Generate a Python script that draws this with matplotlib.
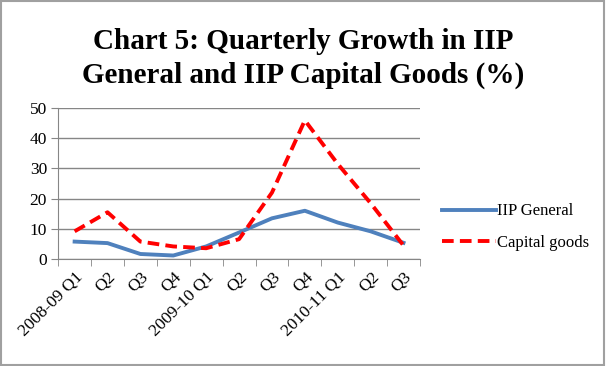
import numpy as np
import matplotlib.pyplot as plt
from matplotlib.patches import Rectangle

quarters = ["2008-09 Q1", "Q2", "Q3", "Q4", "2009-10 Q1", "Q2", "Q3", "Q4",
            "2010-11 Q1", "Q2", "Q3"]
iip_general = [5.8, 5.3, 1.7, 1.2, 4.2, 8.8, 13.5, 16.0, 12.1, 9.2, 5.4]
capital_goods = [9.2, 15.5, 5.8, 4.2, 3.6, 6.6, 22.0, 45.9, 31.5, 18.5, 4.5]

plt.rcParams['font.family'] = ['Liberation Serif', 'DejaVu Serif']

fig = plt.figure(figsize=(6.06, 3.66), dpi=100)
fig.patches.append(Rectangle((0.002, 0.003), 0.995, 0.994, transform=fig.transFigure,
                             fill=False, edgecolor='#a0a0a0', linewidth=1.5))

ax = fig.add_axes([0.096, 0.292, 0.597, 0.413])
x = np.arange(len(quarters))
ax.plot(x, iip_general, color='#4F81BD', lw=2.8, label='IIP General')
ax.plot(x, capital_goods, color='#FF0000', lw=2.8, ls=(0, (3, 1.6)), label='Capital goods')

ax.set_xlim(-0.5, len(quarters) - 0.5)
ax.set_ylim(0, 50)
ax.set_yticks(range(0, 51, 10))
ax.yaxis.grid(True, color='#868686', lw=1)
ax.set_axisbelow(True)
for s in ['top', 'right']:
    ax.spines[s].set_visible(False)
for s in ['left', 'bottom']:
    ax.spines[s].set_color('#868686')

ax.set_xticks(x)
ax.set_xticklabels(quarters, rotation=45, ha='right', rotation_mode='anchor', fontsize=12.5)
ax.set_xticks(np.arange(-0.5, len(quarters)), minor=True)
ax.tick_params(axis='x', which='major', length=0, pad=7)
ax.tick_params(axis='x', which='minor', length=5, color='#868686', direction='out')
ax.tick_params(axis='y', length=5, color='#868686', labelsize=12.5, pad=3)

fig.text(0.5, 0.84, "Chart 5: Quarterly Growth in IIP\nGeneral and IIP Capital Goods (%)",
         ha='center', va='center', fontsize=21, fontweight='bold', linespacing=1.3)

ax.legend(loc='center left', bbox_to_anchor=(1.02, 0.21), frameon=False, fontsize=12,
          handlelength=3.2, handletextpad=0.1, labelspacing=0.95)

fig.savefig('out.png', dpi=100)
